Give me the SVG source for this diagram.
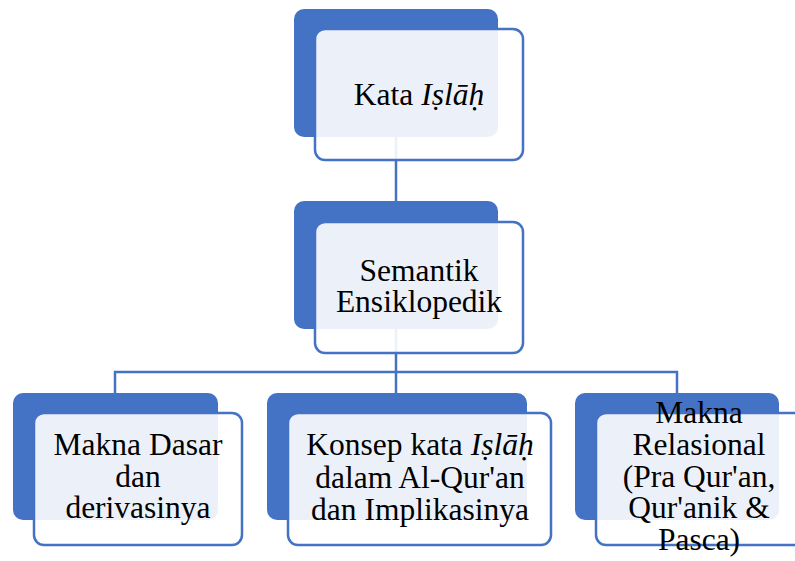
<svg xmlns="http://www.w3.org/2000/svg" width="795" height="561" viewBox="0 0 795 561">
<style>
.back{fill:#4472C4;}
.front{fill:#FFFFFF;fill-opacity:0.9;stroke:#4472C4;stroke-width:2.5;}
.conn{stroke:#4472C4;stroke-width:2.5;fill:none;}
text{font-family:"Liberation Serif","DejaVu Serif",serif;font-size:31.5px;fill:#000;text-anchor:middle;}
.it{font-style:italic;}
</style>
<rect width="795" height="561" fill="#FFFFFF"/>
<g id="connectors">
<line class="conn" x1="396" y1="137" x2="396" y2="202"/>
<line class="conn" x1="396" y1="329" x2="396" y2="394"/>
<line class="conn" x1="114" y1="372" x2="678" y2="372"/>
<line class="conn" x1="115" y1="371" x2="115" y2="394"/>
<line class="conn" x1="677" y1="371" x2="677" y2="394"/>
</g>
<g id="node-kata-islah">
<rect class="back" x="294" y="9" width="204" height="128" rx="10"/>
<rect class="front" x="315" y="29" width="208" height="131" rx="10"/>
<text x="419" y="105">Kata <tspan class="it">Iṣlāḥ</tspan></text>
</g>
<g id="node-semantik">
<rect class="back" x="294" y="201" width="204" height="128" rx="10"/>
<rect class="front" x="315" y="222" width="208" height="131" rx="10"/>
<text x="419" y="281">Semantik</text>
<text x="419" y="312">Ensiklopedik</text>
</g>
<g id="node-makna-dasar">
<rect class="back" x="13" y="393" width="205" height="127" rx="10"/>
<rect class="front" x="34" y="413" width="208" height="132" rx="10"/>
<text x="138" y="455">Makna Dasar</text>
<text x="138" y="487">dan</text>
<text x="138" y="518">derivasinya</text>
</g>
<g id="node-konsep">
<rect class="back" x="267" y="393" width="260" height="127" rx="10"/>
<rect class="front" x="288" y="413" width="263" height="132" rx="10"/>
<text x="420" y="455">Konsep kata <tspan class="it">Iṣlāḥ</tspan></text>
<text x="420" y="488">dalam Al-Qur'an</text>
<text x="420" y="520">dan Implikasinya</text>
</g>
<g id="node-makna-relasional">
<rect class="back" x="575" y="393" width="204" height="127" rx="10"/>
<rect class="front" x="596" y="413" width="208" height="132" rx="10"/>
<text x="699" y="423">Makna</text>
<text x="699" y="455">Relasional</text>
<text x="699" y="487">(Pra Qur'an,</text>
<text x="699" y="518">Qur'anik &amp;</text>
<text x="699" y="550">Pasca)</text>
</g>
</svg>
